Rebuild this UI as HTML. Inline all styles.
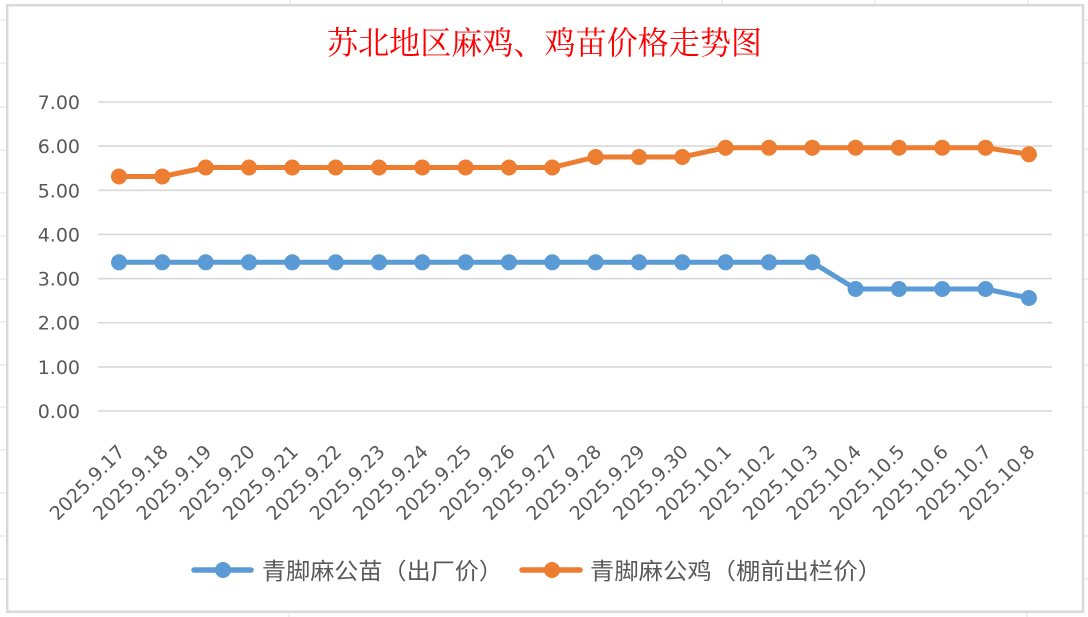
<!DOCTYPE html>
<html>
<head>
<meta charset="utf-8">
<style>
html,body{margin:0;padding:0;background:#fff;}
svg{display:block;}
</style>
</head>
<body>
<svg width="1088" height="617" viewBox="0 0 1088 617" xmlns="http://www.w3.org/2000/svg">
<rect x="0" y="0" width="1088" height="617" fill="#fff"/>
<!-- spreadsheet grid outside chart -->
<g stroke="#E1E1E1" stroke-width="1">
  <line x1="0" y1="20" x2="6" y2="20"/>
  <line x1="0" y1="63" x2="6" y2="63"/>
  <line x1="0" y1="107" x2="6" y2="107"/>
  <line x1="0" y1="150" x2="6" y2="150"/>
  <line x1="0" y1="193" x2="6" y2="193"/>
  <line x1="0" y1="236" x2="6" y2="236"/>
  <line x1="0" y1="279" x2="6" y2="279"/>
  <line x1="0" y1="322" x2="6" y2="322"/>
  <line x1="0" y1="365" x2="6" y2="365"/>
  <line x1="0" y1="407" x2="6" y2="407"/>
  <line x1="0" y1="450" x2="6" y2="450"/>
  <line x1="0" y1="493" x2="6" y2="493"/>
  <line x1="0" y1="536" x2="6" y2="536"/>
  <line x1="0" y1="579" x2="6" y2="579"/>
  <line x1="1084" y1="20" x2="1088" y2="20"/>
  <line x1="1084" y1="63" x2="1088" y2="63"/>
  <line x1="1084" y1="106" x2="1088" y2="106"/>
  <line x1="1084" y1="149" x2="1088" y2="149"/>
  <line x1="1084" y1="192" x2="1088" y2="192"/>
  <line x1="1084" y1="235" x2="1088" y2="235"/>
  <line x1="1084" y1="279" x2="1088" y2="279"/>
  <line x1="1084" y1="322" x2="1088" y2="322"/>
  <line x1="1084" y1="365" x2="1088" y2="365"/>
  <line x1="1084" y1="407" x2="1088" y2="407"/>
  <line x1="1084" y1="450" x2="1088" y2="450"/>
  <line x1="1084" y1="493" x2="1088" y2="493"/>
  <line x1="1084" y1="536" x2="1088" y2="536"/>
  <line x1="1084" y1="579" x2="1088" y2="579"/>
  <line x1="290" y1="0" x2="290" y2="4"/>
  <line x1="722" y1="0" x2="722" y2="4"/>
  <line x1="875" y1="0" x2="875" y2="4"/>
  <line x1="1028" y1="0" x2="1028" y2="4"/>
  <line x1="289" y1="613" x2="289" y2="617"/>
  <line x1="1027" y1="613" x2="1027" y2="617"/>
</g>
<!-- chart border -->
<rect x="7.2" y="5.2" width="1075.8" height="606.5" fill="#fff" stroke="#D9D9D9" stroke-width="2.5"/>

<!-- title -->
<text x="544.5" y="54" text-anchor="middle" font-family="'Liberation Serif','Noto Serif CJK SC',serif" font-size="32" fill="#FF0000" textLength="435" lengthAdjust="spacingAndGlyphs">苏北地区麻鸡、鸡苗价格走势图</text>

<!-- gridlines -->
<g stroke="#D9D9D9" stroke-width="1.6">
  <line x1="98" y1="102" x2="1052" y2="102"/>
  <line x1="98" y1="146.1" x2="1052" y2="146.1"/>
  <line x1="98" y1="190.3" x2="1052" y2="190.3"/>
  <line x1="98" y1="234.4" x2="1052" y2="234.4"/>
  <line x1="98" y1="278.6" x2="1052" y2="278.6"/>
  <line x1="98" y1="322.7" x2="1052" y2="322.7"/>
  <line x1="98" y1="366.9" x2="1052" y2="366.9"/>
  <line x1="98" y1="411" x2="1052" y2="411"/>
</g>

<!-- y labels -->
<g font-family="'DejaVu Sans',sans-serif" font-size="19" fill="#595959" text-anchor="end">
  <text x="80" y="109">7.00</text>
  <text x="80" y="153.1">6.00</text>
  <text x="80" y="197.3">5.00</text>
  <text x="80" y="241.4">4.00</text>
  <text x="80" y="285.6">3.00</text>
  <text x="80" y="329.7">2.00</text>
  <text x="80" y="373.9">1.00</text>
  <text x="80" y="418">0.00</text>
</g>

<!-- x labels -->
<g font-family="'DejaVu Sans',sans-serif" font-size="19" fill="#595959" text-anchor="end">
  <text transform="translate(126,453) rotate(-45)">2025.9.17</text>
  <text transform="translate(169.3,453) rotate(-45)">2025.9.18</text>
  <text transform="translate(212.7,453) rotate(-45)">2025.9.19</text>
  <text transform="translate(256,453) rotate(-45)">2025.9.20</text>
  <text transform="translate(299.3,453) rotate(-45)">2025.9.21</text>
  <text transform="translate(342.7,453) rotate(-45)">2025.9.22</text>
  <text transform="translate(386,453) rotate(-45)">2025.9.23</text>
  <text transform="translate(429.3,453) rotate(-45)">2025.9.24</text>
  <text transform="translate(472.6,453) rotate(-45)">2025.9.25</text>
  <text transform="translate(516,453) rotate(-45)">2025.9.26</text>
  <text transform="translate(559.3,453) rotate(-45)">2025.9.27</text>
  <text transform="translate(602.6,453) rotate(-45)">2025.9.28</text>
  <text transform="translate(646,453) rotate(-45)">2025.9.29</text>
  <text transform="translate(689.3,453) rotate(-45)">2025.9.30</text>
  <text transform="translate(732.6,453) rotate(-45)">2025.10.1</text>
  <text transform="translate(776,453) rotate(-45)">2025.10.2</text>
  <text transform="translate(819.3,453) rotate(-45)">2025.10.3</text>
  <text transform="translate(862.6,453) rotate(-45)">2025.10.4</text>
  <text transform="translate(905.9,453) rotate(-45)">2025.10.5</text>
  <text transform="translate(949.3,453) rotate(-45)">2025.10.6</text>
  <text transform="translate(992.6,453) rotate(-45)">2025.10.7</text>
  <text transform="translate(1035.9,453) rotate(-45)">2025.10.8</text>
</g>

<!-- blue series -->
<polyline fill="none" stroke="#5B9BD5" stroke-width="5" stroke-linejoin="round"
 points="119,262.3 162.3,262.3 205.7,262.3 249,262.3 292.3,262.3 335.7,262.3 379,262.3 422.3,262.3 465.6,262.3 509,262.3 552.3,262.3 595.6,262.3 639,262.3 682.3,262.3 725.6,262.3 769,262.3 812.3,262.3 855.6,289 898.9,289 942.3,289 985.6,289 1028.9,298"/>
<g fill="#5B9BD5">
  <circle cx="119" cy="262.3" r="8"/><circle cx="162.3" cy="262.3" r="8"/><circle cx="205.7" cy="262.3" r="8"/><circle cx="249" cy="262.3" r="8"/><circle cx="292.3" cy="262.3" r="8"/><circle cx="335.7" cy="262.3" r="8"/><circle cx="379" cy="262.3" r="8"/><circle cx="422.3" cy="262.3" r="8"/><circle cx="465.6" cy="262.3" r="8"/><circle cx="509" cy="262.3" r="8"/><circle cx="552.3" cy="262.3" r="8"/><circle cx="595.6" cy="262.3" r="8"/><circle cx="639" cy="262.3" r="8"/><circle cx="682.3" cy="262.3" r="8"/><circle cx="725.6" cy="262.3" r="8"/><circle cx="769" cy="262.3" r="8"/><circle cx="812.3" cy="262.3" r="8"/><circle cx="855.6" cy="289" r="8"/><circle cx="898.9" cy="289" r="8"/><circle cx="942.3" cy="289" r="8"/><circle cx="985.6" cy="289" r="8"/><circle cx="1028.9" cy="298" r="8"/>
</g>

<!-- orange series -->
<polyline fill="none" stroke="#ED7D31" stroke-width="5" stroke-linejoin="round"
 points="119,176.5 162.3,176.5 205.7,167.5 249,167.5 292.3,167.5 335.7,167.5 379,167.5 422.3,167.5 465.6,167.5 509,167.5 552.3,167.5 595.6,157 639,157 682.3,157 725.6,147.7 769,147.7 812.3,147.7 855.6,147.7 898.9,147.7 942.3,147.7 985.6,147.7 1028.9,154.3"/>
<g fill="#ED7D31">
  <circle cx="119" cy="176.5" r="8"/><circle cx="162.3" cy="176.5" r="8"/><circle cx="205.7" cy="167.5" r="8"/><circle cx="249" cy="167.5" r="8"/><circle cx="292.3" cy="167.5" r="8"/><circle cx="335.7" cy="167.5" r="8"/><circle cx="379" cy="167.5" r="8"/><circle cx="422.3" cy="167.5" r="8"/><circle cx="465.6" cy="167.5" r="8"/><circle cx="509" cy="167.5" r="8"/><circle cx="552.3" cy="167.5" r="8"/><circle cx="595.6" cy="157" r="8"/><circle cx="639" cy="157" r="8"/><circle cx="682.3" cy="157" r="8"/><circle cx="725.6" cy="147.7" r="8"/><circle cx="769" cy="147.7" r="8"/><circle cx="812.3" cy="147.7" r="8"/><circle cx="855.6" cy="147.7" r="8"/><circle cx="898.9" cy="147.7" r="8"/><circle cx="942.3" cy="147.7" r="8"/><circle cx="985.6" cy="147.7" r="8"/><circle cx="1028.9" cy="154.3" r="8"/>
</g>

<!-- legend -->
<line x1="194" y1="570" x2="251" y2="570" stroke="#5B9BD5" stroke-width="5.5" stroke-linecap="round"/>
<circle cx="223" cy="570" r="8" fill="#5B9BD5"/>
<text x="262" y="579" font-family="'Liberation Sans','Noto Sans CJK SC',sans-serif" font-size="23" fill="#595959" textLength="241" lengthAdjust="spacingAndGlyphs">青脚麻公苗（出厂价）</text>

<line x1="522" y1="570" x2="580" y2="570" stroke="#ED7D31" stroke-width="5.5" stroke-linecap="round"/>
<circle cx="552" cy="570" r="8" fill="#ED7D31"/>
<text x="590" y="579" font-family="'Liberation Sans','Noto Sans CJK SC',sans-serif" font-size="23" fill="#595959" textLength="292" lengthAdjust="spacingAndGlyphs">青脚麻公鸡（棚前出栏价）</text>
</svg>
</body>
</html>
